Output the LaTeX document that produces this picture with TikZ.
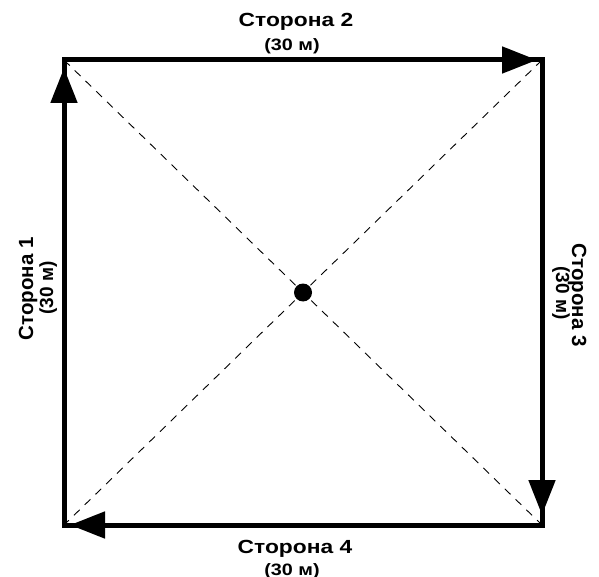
\documentclass[tikz,border=0pt]{standalone}
\usepackage{fontspec}
\setmainfont{Liberation Sans}
\newfontfamily\widefont[FakeStretch=1.2]{Liberation Sans}
\usetikzlibrary{arrows.meta}

\tikzset{
    side/.style={line width=5pt, -{Triangle[length=35pt,width=26pt]}},
    diag/.style={line width=0.9pt, dash pattern=on 8pt off 7pt},
    sname/.style={font=\widefont\bfseries\fontsize{19}{19}\selectfont, inner sep=0pt, anchor=base},
    slen/.style={font=\widefont\bfseries\fontsize{16.5}{16.5}\selectfont, inner sep=0pt, anchor=base},
    vname/.style={font=\bfseries\fontsize{20.5}{20.5}\selectfont, inner sep=0pt, anchor=base},
    vlen/.style={font=\bfseries\fontsize{19}{19}\selectfont, inner sep=0pt, anchor=base},
}

\begin{document}
\begin{tikzpicture}[x=1pt, y=-1pt]
            \useasboundingbox (0,0) rectangle (599,577);
            \coordinate (a) at (64,60);
            \coordinate (b) at (542,60);
            \coordinate (c) at (542,525);
            \coordinate (d) at (64,525);
            \coordinate (o) at (303,292.5);

            \draw[diag] (a) -- (c);
            \draw[diag] (b) -- (d);
            \draw[line width=5pt] (a) -- (b) -- (c) -- (d) -- cycle;

            \draw[side, shorten >=8pt] (d) -- (a);
            \draw[side, shorten >=5pt] (a) -- (b);
            \draw[side, shorten >=10pt] (b) -- (c);
            \draw[side, shorten >=6pt] (c) -- (d);
            \fill (o) circle (9pt);

            \node[vname, rotate=90] (s1) at (33,289) {Сторона 1};
            \node[vlen, rotate=90] (l1) at (53,288) {(30 м)};
            \node[sname] (s2) at (296,27) {Сторона 2};
            \node[slen] (l2) at (292,51) {(30 м)};
            \node[vname, rotate=-90] (s3) at (572,295) {Сторона 3};
            \node[vlen, rotate=-90] (l3) at (556,293) {(30 м)};
            \node[sname] (s4) at (295,553) {Сторона 4};
            \node[slen] (l4) at (292,575) {(30 м)};
\end{tikzpicture}
\end{document}
